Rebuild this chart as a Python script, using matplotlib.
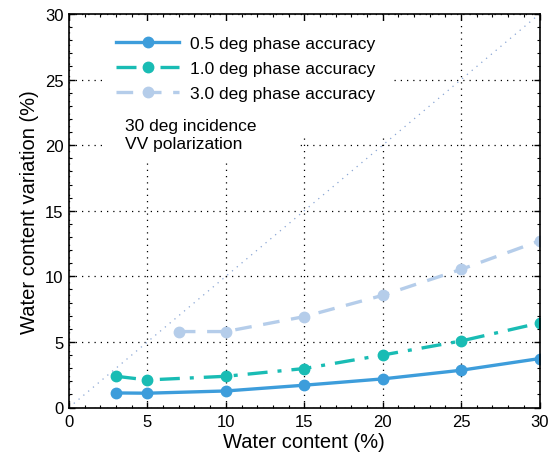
import matplotlib
matplotlib.use("Agg")
import matplotlib.pyplot as plt
from matplotlib.patches import Rectangle
from matplotlib.ticker import MultipleLocator

plt.rcParams['font.family'] = ['Liberation Sans', 'DejaVu Sans']

x_05 = [3, 5, 10, 15, 20, 25, 30]
y_05 = [1.11, 1.09, 1.26, 1.70, 2.18, 2.84, 3.73]
x_10 = [3, 5, 10, 15, 20, 25, 30]
y_10 = [2.38, 2.10, 2.38, 2.97, 4.00, 5.07, 6.44]
x_30 = [7, 10, 15, 20, 25, 30]
y_30 = [5.79, 5.79, 6.93, 8.55, 10.53, 12.70]
labels = ['0.5 deg phase accuracy', '1.0 deg phase accuracy', '3.0 deg phase accuracy']
diag = [0, 30]

fig = plt.figure(figsize=(5.5, 4.64), dpi=100)
ax = fig.add_axes([69/550, 1 - 408.5/464, (539.5 - 69)/550, (408.5 - 15)/464])

# white masking boxes behind legend / annotation (hide grid there)
ax.add_patch(Rectangle((0.081, 0.690), 0.608, 0.292, transform=ax.transAxes,
                       facecolor='white', edgecolor='none', zorder=1.55))
ax.add_patch(Rectangle((0.081, 0.632), 0.410, 0.060, transform=ax.transAxes,
                       facecolor='white', edgecolor='none', zorder=1.55))

ax.plot(diag, diag, linestyle=(0, (1, 4)), color='#8aa6d4', lw=0.9, zorder=1.6)

ax.plot(x_05, y_05, '-o', color='#3d9ddb', lw=2.4, ms=7.5, label=labels[0], zorder=3)
ax.plot(x_10, y_10, color='#19bcb4', lw=2.4, ms=7.5, marker='o',
        linestyle=(0, (6, 3, 1.2, 3)), label=labels[1], zorder=3)
ax.plot(x_30, y_30, color='#b5cdea', lw=2.4, ms=7.5, marker='o',
        linestyle=(0, (5, 3.5)), label=labels[2], zorder=3)

ax.set_xlim(0, 30)
ax.set_ylim(0, 30)
ax.xaxis.set_major_locator(MultipleLocator(5))
ax.yaxis.set_major_locator(MultipleLocator(5))
ax.xaxis.set_minor_locator(MultipleLocator(1))
ax.yaxis.set_minor_locator(MultipleLocator(1))
ax.tick_params(which='both', direction='in', top=True, right=True, labelsize=12)
ax.tick_params(axis='x', pad=5)
ax.tick_params(axis='y', pad=4)
ax.tick_params(which='major', length=4, width=1)
ax.tick_params(which='minor', length=2, width=0.8)
ax.grid(True, which='major', linestyle=(0, (1, 4)), color='black', lw=0.9)
for s in ax.spines.values():
    s.set_linewidth(1.2)
    s.set_zorder(4)

ax.set_xlabel('Water content (%)', fontsize=14.5, labelpad=2)
ax.set_ylabel('Water content variation (%)', fontsize=14.5, labelpad=4)

leg = ax.legend(loc='upper left', bbox_to_anchor=(0.071, 0.98), frameon=False,
                fontsize=12.5, handlelength=3.6, handletextpad=0.65, labelspacing=0.56,
                borderpad=0.3)
leg.set_zorder(5)

ax.text(3.6, 20.8, '30 deg incidence\nVV polarization', fontsize=12.5,
        linespacing=1.3, va='center', ha='left', zorder=5)

fig.savefig('out.png', dpi=100)
